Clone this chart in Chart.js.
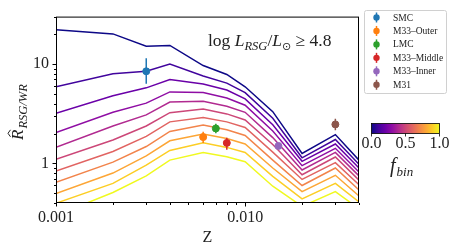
<!DOCTYPE html>
<html lang="en">
<head>
<meta charset="UTF-8">
<title>RSG/WR ratio vs metallicity</title>
<style>
  html, body { margin: 0; padding: 0; background: #fff; }
  #wrap { width: 457px; height: 252px; }
</style>
</head>
<body>
<div id="wrap"><canvas id="ratioChart" width="457" height="252"></canvas></div>
<script src="https://cdn.jsdelivr.net/npm/chart.js"></script>
<script>
// metallicity grid
const Z = [0.001, 0.002, 0.003, 0.004, 0.006, 0.008, 0.010, 0.014, 0.020, 0.030, 0.040];
const fbin = [0.0, 0.1, 0.2, 0.3, 0.4, 0.5, 0.6, 0.7, 0.8, 0.9, 1.0];

// predicted ratio for each binary fraction
const R_f00 = [22.1, 20.1, 15.1, 15.4, 9.66, 7.85, 5.9, 3.32, 1.26, 1.95, 1.08];
const R_f01 = [5.89, 8.0, 8.45, 10.0, 7.57, 6.43, 5.16, 2.85, 1.14, 1.74, 0.98];
const R_f02 = [3.20, 4.8, 5.76, 7.0, 6.29, 5.47, 4.46, 2.45, 1.05, 1.57, 0.90];
const R_f03 = [2.05, 3.27, 4.04, 5.24, 5.16, 4.56, 3.85, 2.12, 0.95, 1.42, 0.82];
const R_f04 = [1.45, 2.38, 3.08, 4.14, 4.23, 3.76, 3.27, 1.82, 0.86, 1.29, 0.75];
const R_f05 = [1.10, 1.72, 2.38, 3.24, 3.52, 3.15, 2.74, 1.55, 0.77, 1.16, 0.68];
const R_f06 = [0.838, 1.32, 1.87, 2.62, 2.90, 2.62, 2.30, 1.30, 0.69, 1.02, 0.61];
const R_f07 = [0.647, 1.03, 1.48, 2.10, 2.43, 2.18, 1.91, 1.08, 0.60, 0.90, 0.54];
const R_f08 = [0.497, 0.80, 1.19, 1.69, 1.98, 1.78, 1.57, 0.90, 0.52, 0.76, 0.47];
const R_f09 = [0.398, 0.63, 0.96, 1.35, 1.61, 1.45, 1.29, 0.74, 0.44, 0.63, 0.41];
const R_f10 = [0.30, 0.51, 0.75, 1.08, 1.29, 1.17, 1.04, 0.59, 0.37, 0.52, 0.35];
const curves = [R_f00, R_f01, R_f02, R_f03, R_f04, R_f05, R_f06, R_f07, R_f08, R_f09, R_f10];

// observed galaxies
const galaxies = ['SMC', 'M33\u2013Outer', 'LMC', 'M33\u2013Middle', 'M33\u2013Inner', 'M31'];
const galZ  = [0.003, 0.006, 0.007, 0.008, 0.015, 0.030];
const galR  = [8.45, 1.84, 2.25, 1.61, 1.50, 2.47];
const galLo = [6.35, 1.61, 2.01, 1.37, 1.42, 2.16];
const galHi = [11.4, 2.08, 2.51, 1.81, 1.58, 2.82];

// ticks
const xTicks = [0.001, 0.002, 0.003, 0.004, 0.005, 0.006, 0.007, 0.008, 0.009, 0.01, 0.02, 0.03, 0.04];
const xLabels = {0.001: '0.001', 0.01: '0.010'};
const yTicks = [0.4, 0.5, 0.6, 0.7, 0.8, 0.9, 1, 2, 3, 4, 5, 6, 7, 8, 9, 10, 20, 30];
const yLabels = {1: '1', 10: '10'};
const cbarTicks = [0.0, 0.5, 1.0];

// colours
const plasma = ['#0d0887', '#41049d', '#6a00a8', '#8f0da4', '#b12a90', '#cc4778',
                '#e16462', '#f2844b', '#fca636', '#fcce25', '#f0f921'];
const galColors = ['#1f77b4', '#ff7f0e', '#2ca02c', '#d62728', '#9467bd', '#8c564b'];

const SERIF = "'Liberation Serif', 'DejaVu Serif', serif";
Chart.defaults.font.family = SERIF;

function findLabel(map, v) {
    for (const k in map) {
        if (Math.abs(Math.log10(v) - Math.log10(+k)) < 1e-6) return map[k];
    }
    return '';
}

const datasets = [];
curves.forEach((arr, i) => {
    datasets.push({
        data: Z.map((z, k) => ({x: z, y: arr[k]})),
        borderColor: plasma[i],
        borderWidth: 1.5,
        pointRadius: 0,
        tension: 0,
        fill: false,
        order: 3
    });
});
galaxies.forEach((g, i) => {
    // error bar
    datasets.push({
        data: [{x: galZ[i], y: galLo[i]}, {x: galZ[i], y: galHi[i]}],
        borderColor: galColors[i],
        borderWidth: 1.5,
        pointRadius: 0,
        fill: false,
        order: 2
    });
    datasets.push({
        data: [{x: galZ[i], y: galR[i]}],
        showLine: false,
        pointRadius: 3.5,
        pointBackgroundColor: galColors[i],
        pointBorderColor: galColors[i],
        order: 1
    });
});

function drawRich(ctx, x, y, parts) {
    parts.forEach(p => {
        ctx.font = p.font;
        ctx.fillText(p.t, x, y + (p.dy || 0));
        x += ctx.measureText(p.t).width + (p.dx || 0);
    });
    return x;
}

const decorations = {
    id: 'decorations',
    afterDraw(chart) {
        const {ctx, chartArea: a, scales: {x, y}} = chart;
        ctx.save();
        // frame
        ctx.strokeStyle = '#000';
        ctx.lineWidth = 1;
        ctx.strokeRect(a.left + 0.5, a.top + 0.5, a.right - a.left - 1, a.bottom - a.top - 1);
        // tick marks
        ctx.beginPath();
        xTicks.forEach(v => {
            const px = Math.round(x.getPixelForValue(v)) + 0.5;
            const len = findLabel(xLabels, v) ? 3.5 : 2;
            ctx.moveTo(px, a.bottom);
            ctx.lineTo(px, a.bottom + len);
        });
        yTicks.forEach(v => {
            const py = Math.round(y.getPixelForValue(v)) + 0.5;
            const len = findLabel(yLabels, v) ? 3.5 : 2;
            ctx.moveTo(a.left, py);
            ctx.lineTo(a.left - len, py);
        });
        ctx.stroke();

        ctx.fillStyle = '#222';
        ctx.textBaseline = 'alphabetic';
        ctx.textAlign = 'left';
        // annotation
        drawRich(ctx, 208, 46, [
            {t: 'log ', font: '17.5px ' + SERIF},
            {t: 'L', font: 'italic 17.5px ' + SERIF},
            {t: 'RSG', font: 'italic 12.5px ' + SERIF, dy: 3.5},
            {t: '/', font: '17.5px ' + SERIF},
            {t: 'L', font: 'italic 17.5px ' + SERIF},
            {t: '\u2299', font: '11px DejaVu Sans', dy: 3.5},
            {t: ' \u2265 4.8', font: '17.5px ' + SERIF}
        ]);

        // y axis label, rotated
        ctx.save();
        ctx.rotate(-Math.PI / 2);
        ctx.font = 'italic 17px ' + SERIF;
        const rW = ctx.measureText('R').width;
        ctx.fillText('R', -140, 23);
        ctx.font = 'italic 12.5px ' + SERIF;
        ctx.fillText('RSG/WR', -140 + rW + 1, 27);
        ctx.beginPath();
        ctx.lineWidth = 1;
        ctx.strokeStyle = '#222';
        const hc = -140 + rW / 2 + 1.5;
        ctx.moveTo(hc - 3.5, 10.5);
        ctx.lineTo(hc, 8);
        ctx.lineTo(hc + 3.5, 10.5);
        ctx.stroke();
        ctx.restore();

        // legend
        const lx = 364.5, ly = 10.5, lw = 82, lh = 83;
        ctx.beginPath();
        ctx.roundRect(lx, ly, lw, lh, 2);
        ctx.fillStyle = 'rgba(255,255,255,0.8)';
        ctx.fill();
        ctx.strokeStyle = '#d0d0d0';
        ctx.lineWidth = 1;
        ctx.stroke();
        galaxies.forEach((g, i) => {
            const cy = 17.5 + i * 13.45;
            ctx.strokeStyle = galColors[i];
            ctx.lineWidth = 1.5;
            ctx.beginPath();
            ctx.moveTo(376.5, cy - 5);
            ctx.lineTo(376.5, cy + 5);
            ctx.stroke();
            ctx.fillStyle = galColors[i];
            ctx.beginPath();
            ctx.arc(376.5, cy, 3.2, 0, Math.PI * 2);
            ctx.fill();
            ctx.fillStyle = '#222';
            ctx.font = '9.5px ' + SERIF;
            ctx.textBaseline = 'middle';
            ctx.fillText(g, 393, cy + 0.5);
        });

        // colour bar
        const cx0 = 371.5, cx1 = 439.5, cyTop = 123.5, cyBot = 133.5;
        const grad = ctx.createLinearGradient(cx0, 0, cx1, 0);
        plasma.forEach((c, i) => grad.addColorStop(i / (plasma.length - 1), c));
        ctx.fillStyle = grad;
        ctx.fillRect(cx0, cyTop, cx1 - cx0, cyBot - cyTop);
        ctx.strokeStyle = '#000';
        ctx.lineWidth = 0.8;
        ctx.strokeRect(cx0, cyTop, cx1 - cx0, cyBot - cyTop);
        ctx.beginPath();
        cbarTicks.forEach(t => {
            const px = cx0 + t * (cx1 - cx0);
            ctx.moveTo(px, cyBot);
            ctx.lineTo(px, cyBot + 3);
        });
        ctx.stroke();
        ctx.fillStyle = '#222';
        ctx.font = '16px ' + SERIF;
        ctx.textAlign = 'center';
        ctx.textBaseline = 'middle';
        cbarTicks.forEach(t => {
            ctx.fillText(t.toFixed(1), cx0 + t * (cx1 - cx0), 143.5);
        });
        ctx.textAlign = 'left';
        ctx.textBaseline = 'alphabetic';
        drawRich(ctx, 390, 172, [
            {t: 'f', font: 'italic 20px ' + SERIF, dx: 1},
            {t: 'bin', font: 'italic 13px ' + SERIF, dy: 4}
        ]);
        ctx.restore();
    }
};

new Chart(document.getElementById('ratioChart'), {
    type: 'line',
    data: {datasets},
    options: {
        responsive: false,
        animation: false,
        layout: {padding: {left: 0, right: 98, top: 6, bottom: 0}},
        plugins: {legend: {display: false}, tooltip: {enabled: false}},
        scales: {
            x: {
                type: 'logarithmic',
                min: 0.001,
                max: 0.04,
                afterBuildTicks: s => { s.ticks = xTicks.map(v => ({value: v})); },
                afterFit: s => { s.height = 49; },
                grid: {display: false, drawTicks: false},
                border: {display: false},
                ticks: {
                    autoSkip: false, maxRotation: 0, padding: 5,
                    color: '#222', font: {size: 16},
                    callback: v => findLabel(xLabels, v)
                },
                title: {display: true, text: 'Z', color: '#222', font: {size: 16}, padding: {top: 0, bottom: 5}}
            },
            y: {
                type: 'logarithmic',
                min: 0.4,
                max: 30,
                afterBuildTicks: s => { s.ticks = yTicks.map(v => ({value: v})); },
                afterFit: s => { s.width = 56; },
                grid: {display: false, drawTicks: false},
                border: {display: false},
                ticks: {
                    autoSkip: false, padding: 7,
                    color: '#222', font: {size: 16},
                    callback: v => findLabel(yLabels, v)
                }
            }
        }
    },
    plugins: [decorations]
});
</script>
</body>
</html>
